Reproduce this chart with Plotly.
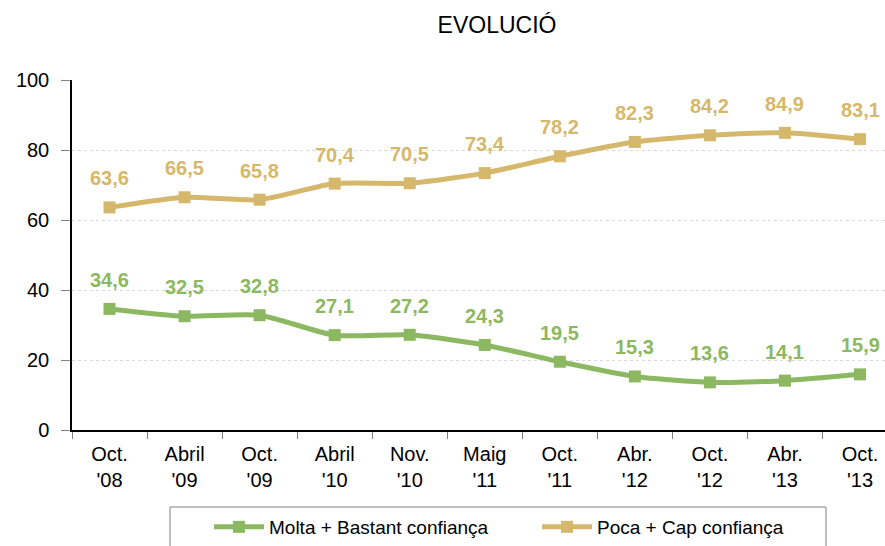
import plotly.graph_objects as go

categories = ["Oct.<br>'08", "Abril<br>'09", "Oct.<br>'09", "Abril<br>'10", "Nov.<br>'10",
              "Maig<br>'11", "Oct.<br>'11", "Abr.<br>'12", "Oct.<br>'12", "Abr.<br>'13", "Oct.<br>'13"]
molta_bastant = [34.6, 32.5, 32.8, 27.1, 27.2, 24.3, 19.5, 15.3, 13.6, 14.1, 15.9]
poca_cap = [63.6, 66.5, 65.8, 70.4, 70.5, 73.4, 78.2, 82.3, 84.2, 84.9, 83.1]
series_names = ["Molta + Bastant confiança", "Poca + Cap confiança"]
y_ticks = [0, 20, 40, 60, 80, 100]
title_text = "EVOLUCIÓ"

GREEN = "#8CB862"
GOLD = "#D5B86C"
FONT = "Liberation Sans, Arial, sans-serif"

fig = go.Figure()
for name, vals, col in [(series_names[0], molta_bastant, GREEN), (series_names[1], poca_cap, GOLD)]:
    fig.add_trace(go.Scatter(
        x=categories, y=vals, name=name, mode="lines+markers",
        line=dict(color=col, width=5, shape="spline", smoothing=0.6),
        marker=dict(symbol="square", size=12, color=col),
        hoverinfo="skip",
    ))
    for c, v in zip(categories, vals):
        fig.add_annotation(
            x=c, y=v, text=f"{v:.1f}".replace(".", ","), showarrow=False,
            yshift=29, font=dict(family=FONT, size=20, color=col, weight="bold"),
        )

# legend frame
L, T, W, H = 72, 80, 813, 350
fig.add_shape(type="rect", xref="paper", yref="paper",
              x0=(170 - L) / W, x1=(826 - L) / W,
              y0=(T + H - 507) / H, y1=(T + H - 570) / H,
              line=dict(color="#808080", width=1), fillcolor="rgba(0,0,0,0)")

fig.update_layout(
    width=885, height=546,
    margin=dict(l=L, r=0, t=T, b=546 - T - H, autoexpand=False),
    paper_bgcolor="white", plot_bgcolor="white",
    font=dict(family=FONT, size=20, color="black"),
    title=dict(text=title_text, x=497 / 885, xref="container", xanchor="center",
               y=1 - 25 / 546, yref="container", yanchor="middle",
               font=dict(family=FONT, size=23, color="black")),
    showlegend=True,
    legend=dict(orientation="h", xref="container", yref="container",
                x=209 / 885, xanchor="left", y=1 - 508 / 546, yanchor="top",
                font=dict(family=FONT, size=19, color="black"),
                bgcolor="rgba(0,0,0,0)", borderwidth=0, itemwidth=50,
                entrywidth=263, entrywidthmode="pixels",
                traceorder="normal"),
    xaxis=dict(
        type="category", range=[-0.5, 10.333], automargin=False,
        showline=True, linecolor="black", linewidth=1.5,
        ticks="outside", tickson="boundaries", ticklen=7, tickcolor="#808080",
        showgrid=False, ticklabelstandoff=5,
        tickfont=dict(family=FONT, size=20, color="black"),
    ),
    yaxis=dict(
        range=[0, 100], tickvals=y_ticks, automargin=False,
        showline=True, linecolor="black", linewidth=1.5,
        ticks="outside", ticklen=9, tickcolor="#808080",
        showgrid=True, gridcolor="#D9D9D9", griddash="dot", gridwidth=1,
        zeroline=False, ticklabelstandoff=8,
        tickfont=dict(family=FONT, size=20, color="black"),
    ),
)

fig.write_html("out.html", config={"displayModeBar": False},
               post_script="document.body.style.margin='0';document.body.style.overflow='hidden';")
